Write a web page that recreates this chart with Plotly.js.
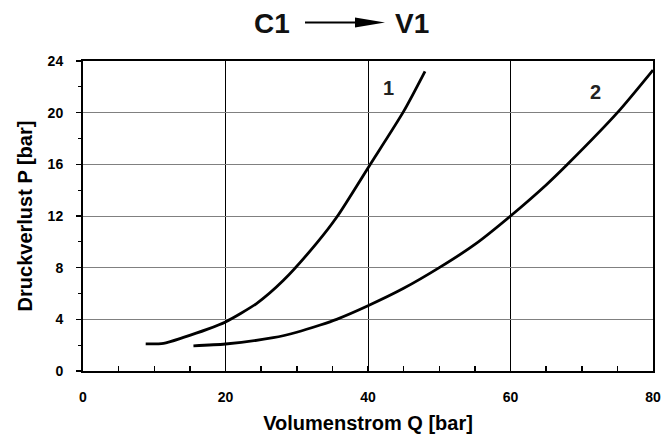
<!DOCTYPE html>
<html>
<head>
<meta charset="utf-8">
<script src="https://cdn.plot.ly/plotly-3.0.1.min.js"></script>
<style>html,body{margin:0;padding:0;background:#fff;}#chart{width:671px;height:448px;}</style>
</head>
<body>
<div id="chart"></div>
<script>
// Curve 1
const q1 = [8.8, 11.3, 14.1, 17.4, 20, 24.4, 28.1, 32.8, 35.6, 40.2, 45, 48];
const p1 = [2.1, 2.14, 2.6, 3.22, 3.8, 5.24, 7.0, 9.9, 11.9, 15.9, 20.1, 23.2];
// Curve 2
const q2 = [15.5, 20, 26.7, 30, 33.3, 35.6, 40, 45, 50, 55, 60, 65, 68, 75, 80];
const p2 = [1.95, 2.09, 2.58, 3.0, 3.56, 4.0, 5.05, 6.4, 8.0, 9.8, 12.0, 14.4, 16.0, 20.0, 23.3];
// Labels
const curveLabels = ["1", "2"];
const labelQ = [42.9, 71.9];
const labelP = [21.9, 21.6];
const xTicks = [0, 20, 40, 60, 80];
const yTicks = [0, 4, 8, 12, 16, 20, 24];

const FONT = "Liberation Sans, Arial, sans-serif";
const ML = 83, MT = 61, PW = 570, PH = 310;
const px = v => (v - ML) / PW;          // pixel x -> paper
const py = v => (MT + PH - v) / PH;     // pixel y -> paper

const traces = [
  {x: q1, y: p1, mode: "lines", line: {color: "#000", width: 2.8, shape: "spline", smoothing: 0.7}, hoverinfo: "skip"},
  {x: q2, y: p2, mode: "lines", line: {color: "#000", width: 2.8, shape: "spline", smoothing: 0.7}, hoverinfo: "skip"}
];

const annotations = curveLabels.map((t, i) => ({
  x: labelQ[i], y: labelP[i], xref: "x", yref: "y", text: "<b>" + t + "</b>",
  showarrow: false, font: {family: FONT, size: 20, color: "#222"}, xanchor: "center", yanchor: "middle"
}));
annotations.push({xref: "paper", yref: "paper", x: px(272), y: py(23.5),
  text: "<b>C1</b>", showarrow: false, font: {family: FONT, size: 28, color: "#111"}, xanchor: "center", yanchor: "middle"});
annotations.push({xref: "paper", yref: "paper", x: px(411.5), y: py(23.5),
  text: "<b>V1</b>", showarrow: false, font: {family: FONT, size: 28, color: "#111"}, xanchor: "center", yanchor: "middle"});

const shapes = [
  {type: "line", xref: "paper", yref: "paper", x0: px(305), x1: px(357), y0: py(22.5), y1: py(22.5),
   line: {color: "#000", width: 2}},
  {type: "path", xref: "paper", yref: "paper",
   path: "M " + px(385) + "," + py(22.5) + " L " + px(355) + "," + py(17.5) + " L " + px(355) + "," + py(27.5) + " Z",
   fillcolor: "#000", line: {color: "#000", width: 0}}
];

const layout = {
  width: 671, height: 448,
  margin: {l: ML, r: 671 - ML - PW, t: MT, b: 448 - MT - PH},
  paper_bgcolor: "#fff", plot_bgcolor: "#fff",
  showlegend: false,
  font: {family: FONT, color: "#000"},
  xaxis: {
    range: [0, 80], tickvals: xTicks, ticktext: xTicks.map(v => "<b>" + v + "</b>"),
    showgrid: true, gridcolor: "#000", gridwidth: 1,
    showline: true, linecolor: "#000", linewidth: 2, mirror: true,
    ticks: "inside", ticklen: 5, tickwidth: 1.5, tickcolor: "#000",
    minor: {dtick: 5, ticks: "inside", ticklen: 5, tickwidth: 1.5, tickcolor: "#000", showgrid: false},
    tickfont: {family: FONT, size: 14, color: "#000"},
    ticklabelstandoff: 12,
    zeroline: false, fixedrange: true,
    title: {text: "<b>Volumenstrom Q [bar]</b>", font: {family: FONT, size: 20, color: "#000"}, standoff: 12}
  },
  yaxis: {
    range: [0, 24], tickvals: yTicks, ticktext: yTicks.map(v => "<b>" + v + "</b>"),
    showgrid: true, gridcolor: "#808080", gridwidth: 1,
    showline: true, linecolor: "#000", linewidth: 2, mirror: true,
    ticks: "outside", ticklen: 5, tickwidth: 1.5, tickcolor: "#000",
    minor: {dtick: 2, ticks: "outside", ticklen: 3, tickwidth: 1, tickcolor: "#000", showgrid: false},
    tickfont: {family: FONT, size: 14, color: "#000"},
    ticklabelstandoff: 10,
    zeroline: false, fixedrange: true,
    title: {text: "<b>Druckverlust P [bar]</b>", font: {family: FONT, size: 20, color: "#000"}, standoff: 10}
  },
  annotations: annotations,
  shapes: shapes
};

Plotly.newPlot("chart", traces, layout, {staticPlot: true, displayModeBar: false});
</script>
</body>
</html>
